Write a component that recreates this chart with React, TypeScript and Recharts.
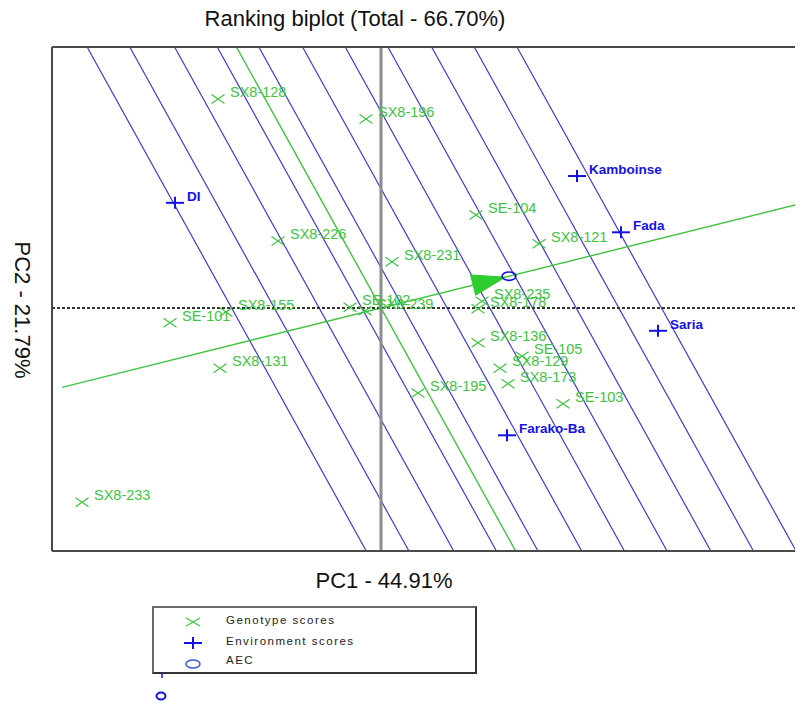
import { ScatterChart, Scatter, XAxis, YAxis, ReferenceLine } from "recharts"

// genotype scores (PC1, PC2)
const genotypes = ["SX8-128", "SX8-196", "SX8-226", "SE-104", "SX8-121", "SX8-231", "SX8-155", "SE-101", "SX8-131", "SE-102", "SX8-239", "SX8-235", "SX8-178", "SX8-136", "SE-105", "SX8-129", "SX8-173", "SX8-195", "SE-103", "SX8-233"]
const genoPC1 = [-1.63, -0.15, -1.03, 0.95, 1.58, 0.11, -1.55, -2.11, -1.61, -0.31, -0.16, 1.01, 0.97, 0.97, 1.41, 1.19, 1.27, 0.37, 1.82, -2.99]
const genoPC2 = [3.12, 2.82, 1.0, 1.39, 0.96, 0.69, -0.06, -0.22, -0.9, 0.01, -0.04, 0.1, -0.01, -0.52, -0.72, -0.9, -1.13, -1.27, -1.43, -2.9]

// environment scores
const environments = ["DI", "Kamboinse", "Fada", "Saria", "Farako-Ba"]
const envPC1 = [-2.06, 1.96, 2.4, 2.77, 1.26]
const envPC2 = [1.57, 1.97, 1.13, -0.34, -1.9]

// average environment coordinate
const aec = { x: 1.28, y: 0.475 }

// positions of the ranking lines along the AEC axis
const rankLines = [-1.4, -1.0, -0.58, -0.18, 0.21, 0.62, 1.02, 1.42, 1.83, 2.23, 2.63]

const X_MIN = -3.29
const X_MAX = 4.19
const Y_MIN = -3.627
const Y_MAX = 3.896
const ATC_START = -3.19

const PLOT_W = 748
const PLOT_H = 504

const GREEN = "#40c440"
const BLUE_LINE = "#3c3cd6"
const ENV_BLUE = "#1212e8"
const FONT = "'Liberation Sans', Arial, sans-serif"

const genoData = genotypes.map((name, i) => ({ name, x: genoPC1[i], y: genoPC2[i] }))
const envData = environments.map((name, i) => ({ name, x: envPC1[i], y: envPC2[i] }))

const slope = aec.y / aec.x
const len = Math.hypot(aec.x, aec.y)
const ux = aec.x / len
const uy = aec.y / len

// clip the line ux*x + uy*y = c to the plot domain
function clipLine(c: number) {
  const pts: { x: number; y: number }[] = []
  const xt = (c - uy * Y_MAX) / ux
  const xb = (c - uy * Y_MIN) / ux
  if (xt >= X_MIN && xt <= X_MAX) pts.push({ x: xt, y: Y_MAX })
  else {
    const xe = xt < X_MIN ? X_MIN : X_MAX
    pts.push({ x: xe, y: (c - ux * xe) / uy })
  }
  if (xb >= X_MIN && xb <= X_MAX) pts.push({ x: xb, y: Y_MIN })
  else {
    const xe = xb < X_MIN ? X_MIN : X_MAX
    pts.push({ x: xe, y: (c - ux * xe) / uy })
  }
  return pts
}

const GenoShape = (props: any) => {
  const { cx, cy, payload } = props
  return (
    <g>
      <line x1={cx - 6.5} y1={cy - 4.5} x2={cx + 6.5} y2={cy + 4.5} stroke={GREEN} strokeWidth={1.2} />
      <line x1={cx - 6.5} y1={cy + 4.5} x2={cx + 6.5} y2={cy - 4.5} stroke={GREEN} strokeWidth={1.2} />
      <text x={cx + 12} y={cy - 2} fill={GREEN} fontSize={14.5} fontFamily={FONT}>
        {payload.name}
      </text>
    </g>
  )
}

const EnvShape = (props: any) => {
  const { cx, cy, payload } = props
  return (
    <g>
      <line x1={cx - 9} y1={cy} x2={cx + 9} y2={cy} stroke={ENV_BLUE} strokeWidth={2} />
      <line x1={cx} y1={cy - 6} x2={cx} y2={cy + 6} stroke={ENV_BLUE} strokeWidth={2} />
      <text x={cx + 12} y={cy - 2} fill={ENV_BLUE} fontSize={13.5} fontWeight="bold" fontFamily={FONT}>
        {payload.name}
      </text>
    </g>
  )
}

const AecShape = (props: any) => {
  const { cx, cy } = props
  const sx = PLOT_W / (X_MAX - X_MIN)
  const sy = PLOT_H / (Y_MAX - Y_MIN)
  let dx = aec.x * sx
  let dy = -aec.y * sy
  const d = Math.hypot(dx, dy)
  dx /= d
  dy /= d
  const tipX = cx - dx * 4
  const tipY = cy - dy * 4
  const bx = tipX - dx * 33
  const by = tipY - dy * 33
  const nx = -dy
  const ny = dx
  const pts = `${tipX},${tipY} ${bx + nx * 10.5},${by + ny * 10.5} ${bx - nx * 10.5},${by - ny * 10.5}`
  return (
    <g>
      <polygon points={pts} fill="#2ecc2e" stroke="#2ecc2e" />
      <ellipse cx={cx} cy={cy} rx={7} ry={4.2} fill="none" stroke={ENV_BLUE} strokeWidth={1.6} />
    </g>
  )
}

export default function App() {
  return (
    <div style={{ position: "relative", width: 795, height: 699, fontFamily: FONT, background: "#fff" }}>
      <div style={{ position: "absolute", left: 147, top: 0, width: 400, textAlign: "center", fontSize: 22, lineHeight: "22px", color: "#111" }}>
        Ranking biplot (Total - 66.70%)
      </div>
      <ScatterChart width={795} height={699} margin={{ top: 39, right: 3, bottom: 156, left: 44 }}>
        <XAxis type="number" dataKey="x" domain={[X_MIN, X_MAX]} allowDataOverflow hide />
        <YAxis type="number" dataKey="y" domain={[Y_MIN, Y_MAX]} allowDataOverflow hide />
        {rankLines.map((c, i) => (
          <ReferenceLine key={i} segment={clipLine(c)} stroke={BLUE_LINE} strokeWidth={1.2} ifOverflow="hidden" />
        ))}
        <ReferenceLine segment={clipLine(0)} stroke={GREEN} strokeWidth={1.4} ifOverflow="hidden" />
        <ReferenceLine
          segment={[
            { x: ATC_START, y: ATC_START * slope },
            { x: X_MAX, y: X_MAX * slope },
          ]}
          stroke={GREEN}
          strokeWidth={1.4}
          ifOverflow="hidden"
        />
        <ReferenceLine x={0} stroke="#8c8c8c" strokeWidth={3} />
        <ReferenceLine y={0} stroke="#333" strokeWidth={1.8} strokeDasharray="3 2" />
        <ReferenceLine y={Y_MAX} stroke="#4a4a4a" strokeWidth={2} />
        <ReferenceLine y={Y_MIN} stroke="#4a4a4a" strokeWidth={2} />
        <ReferenceLine x={X_MIN} stroke="#4a4a4a" strokeWidth={2} />
        <Scatter data={genoData} shape={GenoShape} isAnimationActive={false} />
        <Scatter data={envData} shape={EnvShape} isAnimationActive={false} />
        <Scatter data={[aec]} shape={AecShape} isAnimationActive={false} />
      </ScatterChart>
      <div style={{ position: "absolute", left: 176, top: 562, width: 400, textAlign: "center", fontSize: 22, lineHeight: "22px", color: "#111" }}>
        PC1 - 44.91%
      </div>
      <div
        style={{
          position: "absolute",
          left: -86,
          top: 290,
          width: 200,
          height: 24,
          lineHeight: "24px",
          textAlign: "center",
          fontSize: 22,
          color: "#111",
          transform: "rotate(90deg)",
        }}
      >
        PC2 - 21.79%
      </div>
      <div
        style={{
          position: "absolute",
          left: 144,
          top: 598,
          width: 321,
          height: 64,
          border: "2px solid #6a6a6a",
          borderBottomColor: "#333",
          borderRightColor: "#333",
          fontSize: 11.5,
          letterSpacing: 1.5,
          color: "#222",
        }}
      >
        <svg width={40} height={64} style={{ position: "absolute", left: 20, top: 0 }}>
          <line x1={12} y1={10} x2={26} y2={18} stroke={GREEN} strokeWidth={1.2} />
          <line x1={12} y1={18} x2={26} y2={10} stroke={GREEN} strokeWidth={1.2} />
          <line x1={10} y1={35} x2={28} y2={35} stroke={ENV_BLUE} strokeWidth={2} />
          <line x1={19} y1={29} x2={19} y2={41} stroke={ENV_BLUE} strokeWidth={2} />
          <ellipse cx={19} cy={56} rx={7} ry={4} fill="none" stroke="#3a5ad8" strokeWidth={1.5} />
        </svg>
        <div style={{ position: "absolute", left: 72, top: 6 }}>Genotype scores</div>
        <div style={{ position: "absolute", left: 72, top: 27 }}>Environment scores</div>
        <div style={{ position: "absolute", left: 72, top: 46 }}>AEC</div>
      </div>
      <svg width={20} height={40} style={{ position: "absolute", left: 143, top: 662 }}>
        <line x1={11} y1={3} x2={11} y2={8} stroke={ENV_BLUE} strokeWidth={1.5} />
        <ellipse cx={10} cy={26} rx={4.5} ry={3.5} fill="none" stroke={ENV_BLUE} strokeWidth={2} />
      </svg>
    </div>
  )
}
